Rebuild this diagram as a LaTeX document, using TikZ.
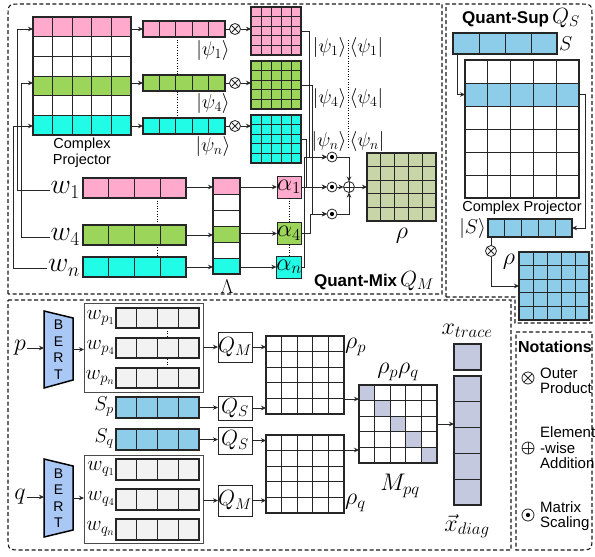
\RequirePackage{fix-cm}
\documentclass[tikz,border=0pt]{standalone}
\usepackage{fontspec}
\setsansfont{Liberation Sans}
\usetikzlibrary{arrows.meta,calc}
\definecolor{cpink}{RGB}{255,170,204}
\definecolor{cgreen}{RGB}{155,214,90}
\definecolor{ccyan}{RGB}{32,252,230}
\definecolor{cblue}{RGB}{142,205,234}
\definecolor{colive}{RGB}{200,213,168}
\definecolor{cbert}{RGB}{170,200,245}
\definecolor{clav}{RGB}{196,201,224}
\definecolor{cgray}{RGB}{242,242,242}
\newcommand{\gridnode}[9]{%
  \node[draw=none,fill=#8,minimum width=#4pt,minimum height=#5pt,inner sep=0pt,outer sep=0pt] (#1) at ({#2+#4/2},{#3+#5/2}) {};
  \pgfmathtruncatemacro{\gnc}{#6-1}%
  \pgfmathtruncatemacro{\gnr}{#7-1}%
  \ifnum\gnc>0 \foreach \k in {1,...,\gnc}{\draw[gl] ({#2+\k*#4/#6},{#3}) -- ({#2+\k*#4/#6},{#3+#5});}\fi
  \ifnum\gnr>0 \foreach \k in {1,...,\gnr}{\draw[gl] ({#2},{#3+\k*#5/#7}) -- ({#2+#4},{#3+\k*#5/#7});}\fi
  \draw[line width=#9pt,draw=black!85] (#1.north west) rectangle (#1.south east);
}
\begin{document}
\begin{tikzpicture}[x=1pt,y=-1pt,
  gl/.style={line width=0.7pt,draw=black!85},
  ln/.style={line width=0.8pt,draw=black!85},
  arr/.style={-{Stealth[length=5pt,width=4.5pt]},line width=0.8pt,draw=black!85},
  dframe/.style={line width=1.1pt,draw=black!90,dash pattern=on 4pt off 2.5pt},
  dotv/.style={line width=0.9pt,dash pattern=on 1pt off 1.6pt},
  mlab/.style={font=\fontsize{20}{24}\selectfont,inner sep=1pt},
  mlabL/.style={font=\fontsize{24}{28}\selectfont,inner sep=1pt},
  wlab/.style={font=\fontsize{28}{32}\selectfont,inner sep=1pt},
  wplab/.style={font=\fontsize{21}{24}\selectfont,inner sep=1pt},
  sflab/.style={font=\sffamily\fontsize{14.5}{15.5}\selectfont,inner sep=0pt},
  ntext/.style={font=\sffamily\fontsize{15}{15.5}\selectfont,inner sep=0pt,align=left},
  abox/.style={draw=black!85,line width=0.9pt,minimum width=24pt,minimum height=22pt,inner sep=0pt,outer sep=0pt,font=\fontsize{24}{28}\selectfont},
  qbox/.style={draw=black!85,line width=1pt,minimum width=34pt,inner sep=0pt,outer sep=0pt,font=\fontsize{22}{26}\selectfont},
  wgroup/.style={draw=black!70,line width=0.9pt,minimum width=119pt,inner sep=0pt,outer sep=0pt},
  bertl/.style={align=center,font=\sffamily\fontsize{14}{16.5}\selectfont,minimum width=29pt,minimum height=77pt,inner sep=0pt,outer sep=0pt},
  otimesn/.style={circle,draw=black!85,line width=0.8pt,fill=white,minimum size=11pt,inner sep=0pt,outer sep=0pt,
    path picture={\draw[black!85,line width=0.8pt] ([shift={(-4,-4)}]path picture bounding box.center) -- ([shift={(4,4)}]path picture bounding box.center) ([shift={(-4,4)}]path picture bounding box.center) -- ([shift={(4,-4)}]path picture bounding box.center);}},
  oplusn/.style={circle,draw=black!85,line width=0.8pt,fill=white,minimum size=11pt,inner sep=0pt,outer sep=0pt,
    path picture={\draw[black!85,line width=0.8pt] ([shift={(-6,0)}]path picture bounding box.center) -- ([shift={(6,0)}]path picture bounding box.center) ([shift={(0,-6)}]path picture bounding box.center) -- ([shift={(0,6)}]path picture bounding box.center);}},
  odotn/.style={circle,draw=black!85,line width=0.8pt,fill=white,minimum size=10pt,inner sep=0pt,outer sep=0pt,
    path picture={\fill[black] (path picture bounding box.center) circle[radius=2.1pt];}},
]
\useasboundingbox (0,0) rectangle (595,557);
\fill[white] (0,0) rectangle (595,557);

% ---------------- frames ----------------
\draw[dframe] (8,294) -- (8,18) .. controls (8,4) .. (22,4) -- (442,4) -- (442,294) -- cycle;
\draw[dframe] (446,297) -- (446,4) -- (578,4) .. controls (592,4) .. (592,18) -- (592,323) -- (515,323) -- (515,297) -- cycle;
\draw[dframe] (8,300) -- (511,300) -- (511,550) -- (22,550) .. controls (8,550) .. (8,536) -- cycle;
\draw[dframe] (516,332) -- (592,332) -- (592,536) .. controls (592,550) .. (578,550) -- (516,550) -- cycle;

% ---------------- Quant-Mix ----------------
\fill[cpink] (33,17) rectangle (131,36.67);
\fill[cgreen] (33,76) rectangle (131,95.67);
\fill[ccyan] (33,115.33) rectangle (131,135);
\gridnode{proj}{33}{17}{98}{118}{5}{6}{none}{1.1}
\node[sflab,align=center] (projl) at (82,152.5) {Complex\\Projector};

\draw[dotv] (177,37) -- (177,118);
\gridnode{psi1}{143}{21}{82}{16}{5}{1}{cpink}{1.1}
\gridnode{psi4}{143}{75}{82}{16}{5}{1}{cgreen}{1.1}
\gridnode{psin}{143}{118}{82}{16}{5}{1}{ccyan}{1.1}
\node[mlab] (k1) at (213,50) {$|\psi_1\rangle$};
\node[mlab] (k4) at (213,103) {$|\psi_4\rangle$};
\node[mlab] (kn) at (213,146) {$|\psi_n\rangle$};

\node[otimesn] (ot1) at (235,29) {};
\node[otimesn] (ot4) at (235,83) {};
\node[otimesn] (otn) at (235,126) {};
\gridnode{mpsi1}{251}{7}{50}{48}{5}{5}{cpink}{1.1}
\gridnode{mpsi4}{251}{61}{50}{48}{5}{5}{cgreen}{1.1}
\gridnode{mpsin}{251}{115}{50}{48}{5}{5}{ccyan}{1.1}

\draw[arr] (proj.east |- psi1.west) -- (psi1.west);
\draw[arr] (proj.east |- psi4.west) -- (psi4.west);
\draw[arr] (proj.east |- psin.west) -- (psin.west);
\draw[ln] (psi1.east) -- (ot1.west);
\draw[ln] (psi4.east) -- (ot4.west);
\draw[ln] (psin.east) -- (otn.west);
\draw[arr] (ot1.east) -- (ot1.east -| mpsi1.west);
\draw[arr] (ot4.east) -- (ot4.east -| mpsi4.west);
\draw[arr] (otn.east) -- (otn.east -| mpsin.west);

\node[mlab] (op1) at (348,47) {$|\psi_1\rangle\,\langle\psi_1|$};
\node[mlab] (op4) at (348,98) {$|\psi_4\rangle\,\langle\psi_4|$};
\node[mlab] (opn) at (348,141) {$|\psi_n\rangle\,\langle\psi_n|$};
\draw[dotv] (348,40) -- (348,148);

% word vectors
\draw[dotv] (157,198) -- (157,257);
\gridnode{w1v}{83}{178}{103}{20}{4}{1}{cpink}{1.6}
\gridnode{w4v}{83}{225}{103}{20}{4}{1}{cgreen}{1.6}
\gridnode{wnv}{83}{257}{103}{20}{4}{1}{ccyan}{1.6}
\node[wlab,anchor=east] (w1l) at (81,190) {$w_1$};
\node[wlab,anchor=east] (w4l) at (81,237) {$w_4$};
\node[wlab,anchor=east] (wnl) at (81,268) {$w_n$};
\coordinate (vx1) at (17,0);
\coordinate (vx4) at (21,0);
\coordinate (vxn) at (13,0);
\draw[arr] (w1l.west) -| (vx1 |- psi1.west) -- (proj.west |- psi1.west);
\draw[arr] (w4l.west) -| (vx4 |- psi4.west) -- (proj.west |- psi4.west);
\draw[arr] (wnl.west) -| (vxn |- psin.west) -- (proj.west |- psin.west);

% Lambda
\fill[cpink] (213,178) rectangle (240,194);
\fill[cgreen] (213,226) rectangle (240,242);
\fill[ccyan] (213,258) rectangle (240,274);
\gridnode{lam}{213}{178}{27}{96}{1}{6}{none}{1.6}
\node[mlab] (laml) at (227,287) {$\Lambda$};
\draw[arr] (w1v.east |- 0,187) -- (lam.west |- 0,187);
\draw[arr] (w4v.east) -- (w4v.east -| lam.west);
\draw[arr] (wnv.east) -- (wnv.east -| lam.west);

\node[abox,fill=cpink] (a1) at (289,187) {$\alpha_1$};
\node[abox,fill=cgreen] (a4) at (289,233.5) {$\alpha_4$};
\node[abox,fill=ccyan] (an) at (289,267) {$\alpha_n$};
\draw[dotv] (a1.south) -- (a4.north);
\draw[dotv] (a4.south) -- (an.north);
\draw[arr] (lam.east |- a1.west) -- (a1.west);
\draw[arr] (lam.east |- a4.west) -- (a4.west);
\draw[arr] (lam.east |- an.west) -- (an.west);

\node[odotn] (sc1) at (332,157) {};
\node[odotn] (sc2) at (332,187) {};
\node[odotn] (sc3) at (332,214) {};
\node[oplusn] (add) at (349,187) {};
\coordinate (cA) at (309,0);
\coordinate (cB) at (312,0);
\coordinate (cC) at (306,0);
\coordinate (cD) at (310,0);
\coordinate (cE) at (304,0);
\draw[arr] (mpsi1.east) -| (cA |- sc1.west) -- (sc1.west);
\draw[arr] (mpsi4.east) -| (cB |- sc3.west) -- (sc3.west);
\draw[arr] (mpsin.east) -| (cC |- sc2.west) -- (sc2.west);
\draw[arr] (a1.east) -- (sc2.west);
\draw[arr] (a4.east) -| (cD |- sc3.west) -- (sc3.west);
\draw[arr] (an.east) -| (cE |- sc1.west) -- (sc1.west);
\draw[arr] (sc1.east) -| (add.north);
\draw[arr] (sc3.east) -| (add.south);
\draw[arr] (sc2.east) -- (add.west);
\gridnode{rho}{367}{153}{69}{68}{5}{5}{colive}{1.1}
\draw[arr] (add.east) -- (add.east -| rho.west);
\node[mlabL] (rhol) at (402,236) {$\rho$};
\node[inner sep=0pt] (qml) at (374,281) {{\sffamily\bfseries\fontsize{17}{20}\selectfont Quant-Mix}\hspace{3pt}{\fontsize{22}{26}\selectfont$Q_M$}};

% ---------------- Quant-Sup ----------------
\node[inner sep=0pt] (qsl) at (521,18) {{\sffamily\bfseries\fontsize{17}{20}\selectfont Quant-Sup}\hspace{3pt}{\fontsize{22}{26}\selectfont$Q_S$}};
\gridnode{Sv}{453}{33}{104}{21}{4}{1}{cblue}{1.1}
\node[mlab,anchor=west] (Sl) at (558,44) {$S$};
\fill[cblue] (465,83) rectangle (579,106);
\gridnode{sproj}{465}{60}{114}{138}{5}{6}{none}{1.1}
\coordinate (srW) at (465,94.5);
\coordinate (srE) at (579,94.5);
\coordinate (sd) at (457,0);
\coordinate (sr) at (585,0);
\draw[arr] (sd |- Sv.south) |- (srW);
\node[sflab] (sprojl) at (522,208) {Complex Projector};
\gridnode{Sk}{488}{219}{84}{18}{5}{1}{cblue}{1.1}
\node[mlab,anchor=east] (Skl) at (487,228) {$|S\rangle$};
\draw[arr] (srE) -| (sr |- Sk.east) -- (Sk.east);
\node[otimesn] (os) at (491,251) {};
\draw[ln] (os.north |- Sk.south) -- (os.north);
\gridnode{srho}{519}{252}{70}{68}{5}{5}{cblue}{1.1}
\draw[arr] (os.south) |- (srho.west);
\node[mlabL] (srhol) at (509,262) {$\rho$};

% ---------------- bottom: p ----------------
\filldraw[fill=cbert,draw=black,line width=1.5pt] (44,311) -- (73,318) -- (73,380) -- (44,388) -- cycle;
\node[bertl] (bert1) at (58.5,349.5) {B\\E\\R\\T};
\node[mlabL] (pl) at (20,348) {$p$};
\draw[arr] (pl.east) -- (pl.east -| bert1.west);
\node[wgroup,minimum height=89pt] (wpbox) at (143.5,347.5) {};
\draw[arr] (bert1.east) -- (bert1.east -| wpbox.west);
\draw[dotv] (167,328) -- (167,368);
\gridnode{wp1}{116}{308}{83}{20}{4}{1}{cgray}{1.6}
\gridnode{wp4}{116}{338}{83}{20}{4}{1}{cgray}{1.6}
\gridnode{wpn}{116}{368}{83}{20}{4}{1}{cgray}{1.6}
\node[wplab,anchor=east] (wp1l) at (116,318) {$w_{p_1}$};
\node[wplab,anchor=east] (wp4l) at (116,348) {$w_{p_4}$};
\node[wplab,anchor=east] (wpnl) at (116,378) {$w_{p_n}$};
\node[qbox,minimum height=30pt] (QMp) at (235,347) {$Q_M$};
\draw[arr] (wpbox.east |- QMp.west) -- (QMp.west);
\gridnode{rhop}{266}{336}{78}{78}{5}{5}{white}{1.1}
\draw[arr] (QMp.east) -- (QMp.east -| rhop.west);
\node[mlabL,anchor=west] (rhopl) at (344,347) {$\rho_p$};
\gridnode{Sp}{116}{397}{83}{21}{4}{1}{cblue}{1.6}
\node[mlab,anchor=east] (Spl) at (115,407) {$S_p$};
\node[qbox,minimum height=24pt] (QSp) at (235,408) {$Q_S$};
\draw[arr] (Sp.east) -- (Sp.east -| QSp.west);
\draw[arr] (QSp.east) -- (QSp.east -| rhop.west);

% ---------------- bottom: q ----------------
\gridnode{Sq}{116}{429}{83}{21}{4}{1}{cblue}{1.6}
\node[mlab,anchor=east] (Sql) at (115,439) {$S_q$};
\node[qbox,minimum height=27pt] (QSq) at (235,440.5) {$Q_S$};
\draw[arr] (Sq.east) -- (Sq.east -| QSq.west);
\filldraw[fill=cbert,draw=black,line width=1.5pt] (44,459) -- (73,466) -- (73,530) -- (44,537) -- cycle;
\node[bertl] (bert2) at (58.5,498) {B\\E\\R\\T};
\node[mlabL] (ql) at (20,497) {$q$};
\draw[arr] (ql.east) -- (ql.east -| bert2.west);
\node[wgroup,minimum height=88pt] (wqbox) at (143.5,499) {};
\draw[arr] (bert2.east) -- (bert2.east -| wqbox.west);
\gridnode{wq1}{116}{459}{83}{21}{4}{1}{cgray}{1.6}
\gridnode{wq4}{116}{489}{83}{21}{4}{1}{cgray}{1.6}
\gridnode{wqn}{116}{519}{83}{21}{4}{1}{cgray}{1.6}
\node[wplab,anchor=east] (wq1l) at (116,469) {$w_{q_1}$};
\node[wplab,anchor=east] (wq4l) at (116,499) {$w_{q_4}$};
\node[wplab,anchor=east] (wqnl) at (116,529) {$w_{q_n}$};
\node[qbox,minimum height=31pt] (QMq) at (235,500.5) {$Q_M$};
\draw[arr] (wqbox.east |- QMq.west) -- (QMq.west);
\gridnode{rhoq}{266}{435}{78}{78}{5}{5}{white}{1.1}
\draw[arr] (QSq.east) -- (QSq.east -| rhoq.west);
\draw[arr] (QMq.east) -- (QMq.east -| rhoq.west);
\node[mlabL,anchor=west] (rhoql) at (344,503) {$\rho_q$};

% ---------------- M_pq and x ----------------
\foreach \k in {0,...,4}{\fill[clav] ({359+\k*15.6},{385+\k*15.6}) rectangle ++(15.6,15.6);}
\begin{scope}[gl/.style={line width=1.2pt,draw=black!85}]
\gridnode{Mpq}{359}{385}{78}{78}{5}{5}{none}{1.6}
\gridnode{xdiag}{454}{376}{27}{129}{1}{5}{clav}{1.6}
\end{scope}
\node[mlabL] (rpql) at (398,372) {$\rho_p\rho_q$};
\node[mlabL] (mpql) at (400,486) {$M_{pq}$};
\coordinate (Min1) at ($(Mpq.west)+(0,-25)$);
\coordinate (Min2) at ($(Mpq.west)+(0,26)$);
\draw[arr] (rhop.east |- Min1) -- (Min1);
\draw[arr] (rhoq.east |- Min2) -- (Min2);
\node[draw=black!85,line width=1.6pt,fill=clav,minimum width=27pt,minimum height=26pt,inner sep=0pt,outer sep=0pt] (xtr) at (467.5,357) {};
\node[mlabL] (xtrl) at (467,331) {$x_{trace}$};
\draw[arr] (Mpq.east) -- (Mpq.east -| xdiag.west);
\node[mlabL] (xdl) at (467,526) {$\vec{x}_{diag}$};

% ---------------- Notations ----------------
\node[inner sep=0pt] (notl) at (555,347) {\sffamily\bfseries\fontsize{16}{19}\selectfont Notations};
\node[otimesn,minimum size=12pt] (n1) at (528,378) {};
\node[ntext,anchor=west] (n1t) at (540,381) {Outer\\Product};
\node[oplusn,minimum size=12pt] (n2) at (528,448) {};
\node[ntext,anchor=west] (n2t) at (540,448) {Element\\-wise\\Addition};
\node[odotn,minimum size=12pt] (n3) at (528,515) {};
\node[ntext,anchor=west] (n3t) at (540,516) {Matrix\\Scaling};
\end{tikzpicture}
\end{document}
